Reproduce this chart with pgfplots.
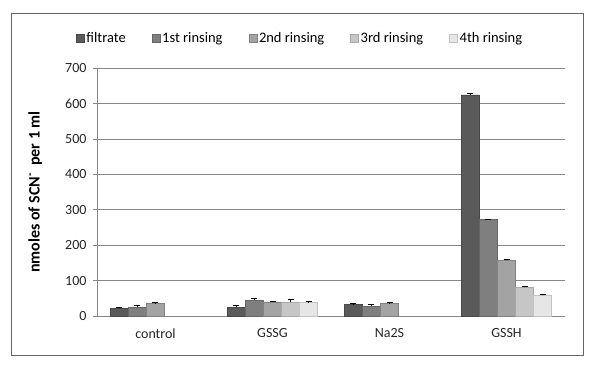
\documentclass[border=0pt]{standalone}
\usepackage{pgfplots}
\pgfplotsset{compat=1.18}
\usepackage{fontspec}
\setmainfont{Carlito}
\definecolor{c1}{HTML}{5A5A5A}
\definecolor{c2}{HTML}{7F7F7F}
\definecolor{c3}{HTML}{A3A3A3}
\definecolor{c4}{HTML}{C6C6C6}
\definecolor{c5}{HTML}{E6E6E6}
\definecolor{gridc}{HTML}{868686}
\begin{document}
\begin{tikzpicture}
\path[use as bounding box] (-97pt,-59pt) rectangle (503pt,316pt);
\draw[gray!80!black, line width=0.8pt] (-86pt,-39pt) rectangle (486pt,303pt);
\begin{axis}[
  scale only axis, width=468pt, height=248pt,
  ybar=0pt, bar width=0.154,
  xmin=-0.5, xmax=3.5, ymin=0, ymax=700,
  xtick={0,1,2,3}, xticklabels={control,GSSG,Na2S,GSSH},
  extra x ticks={-0.5,0.5,1.5,2.5,3.5}, extra x tick labels={},
  extra x tick style={major tick length=4pt, tick style={gridc, line width=0.6pt}, xtick pos=bottom, tick align=outside},
  major x tick style={draw=none},
  ytick={0,100,...,700},
  ymajorgrids, grid style={gridc, line width=0.6pt},
  axis x line*=bottom, axis y line*=left,
  axis line style={gridc, line width=0.6pt},
  y tick style={gridc, line width=0.6pt}, ytick align=outside, major tick length=4pt,
  tick label style={font=\fontsize{14}{16}\selectfont, text=black!85},
  /pgf/number format/assume math mode=true,
  yticklabel style={xshift=-3pt},
  xticklabel style={yshift=-5pt},
  ylabel={\textbf{nmoles of SCN\textsuperscript{-}\ \ per 1 ml}},
  ylabel style={font=\fontsize{16}{18}\selectfont, at={(axis description cs:-0.132,0.5)}, anchor=center},
  legend style={at={(0.434,1.12)}, anchor=center, draw=none, fill=none,
    legend columns=5, font=\fontsize{14.5}{16}\selectfont,
    /tikz/every even column/.append style={column sep=24pt}},
  legend image code/.code={\fill[#1] (0pt,-4pt) rectangle (8pt,4pt);},
  legend cell align=left,
  error bars/y dir=plus, error bars/y explicit,
  error bars/error bar style={black, line width=0.7pt},
  error bars/error mark options={black, rotate=90, mark size=3pt, line width=0.7pt},
]
\addplot[fill=c1, draw=c1!80!black] coordinates {(0,22) +- (0,3) (1,25) +- (0,6) (2,32) +- (0,3) (3,624) +- (0,5)};
\addplot[fill=c2, draw=c2!80!black] coordinates {(0,25) +- (0,6) (1,45) +- (0,6) (2,28) +- (0,6) (3,272) +- (0,2)};
\addplot[fill=c3, draw=c3!80!black] coordinates {(0,35) +- (0,3) (1,40) +- (0,2) (2,35) +- (0,3) (3,158) +- (0,3)};
\addplot[fill=c4, draw=c4!85!black] coordinates {(1,40) +- (0,7) (3,81) +- (0,3)};
\addplot[fill=c5, draw=c5!85!black] coordinates {(1,38) +- (0,3) (3,58) +- (0,3)};
\legend{filtrate,1st rinsing,2nd rinsing,3rd rinsing,4th rinsing}
\end{axis}
\end{tikzpicture}
\end{document}
